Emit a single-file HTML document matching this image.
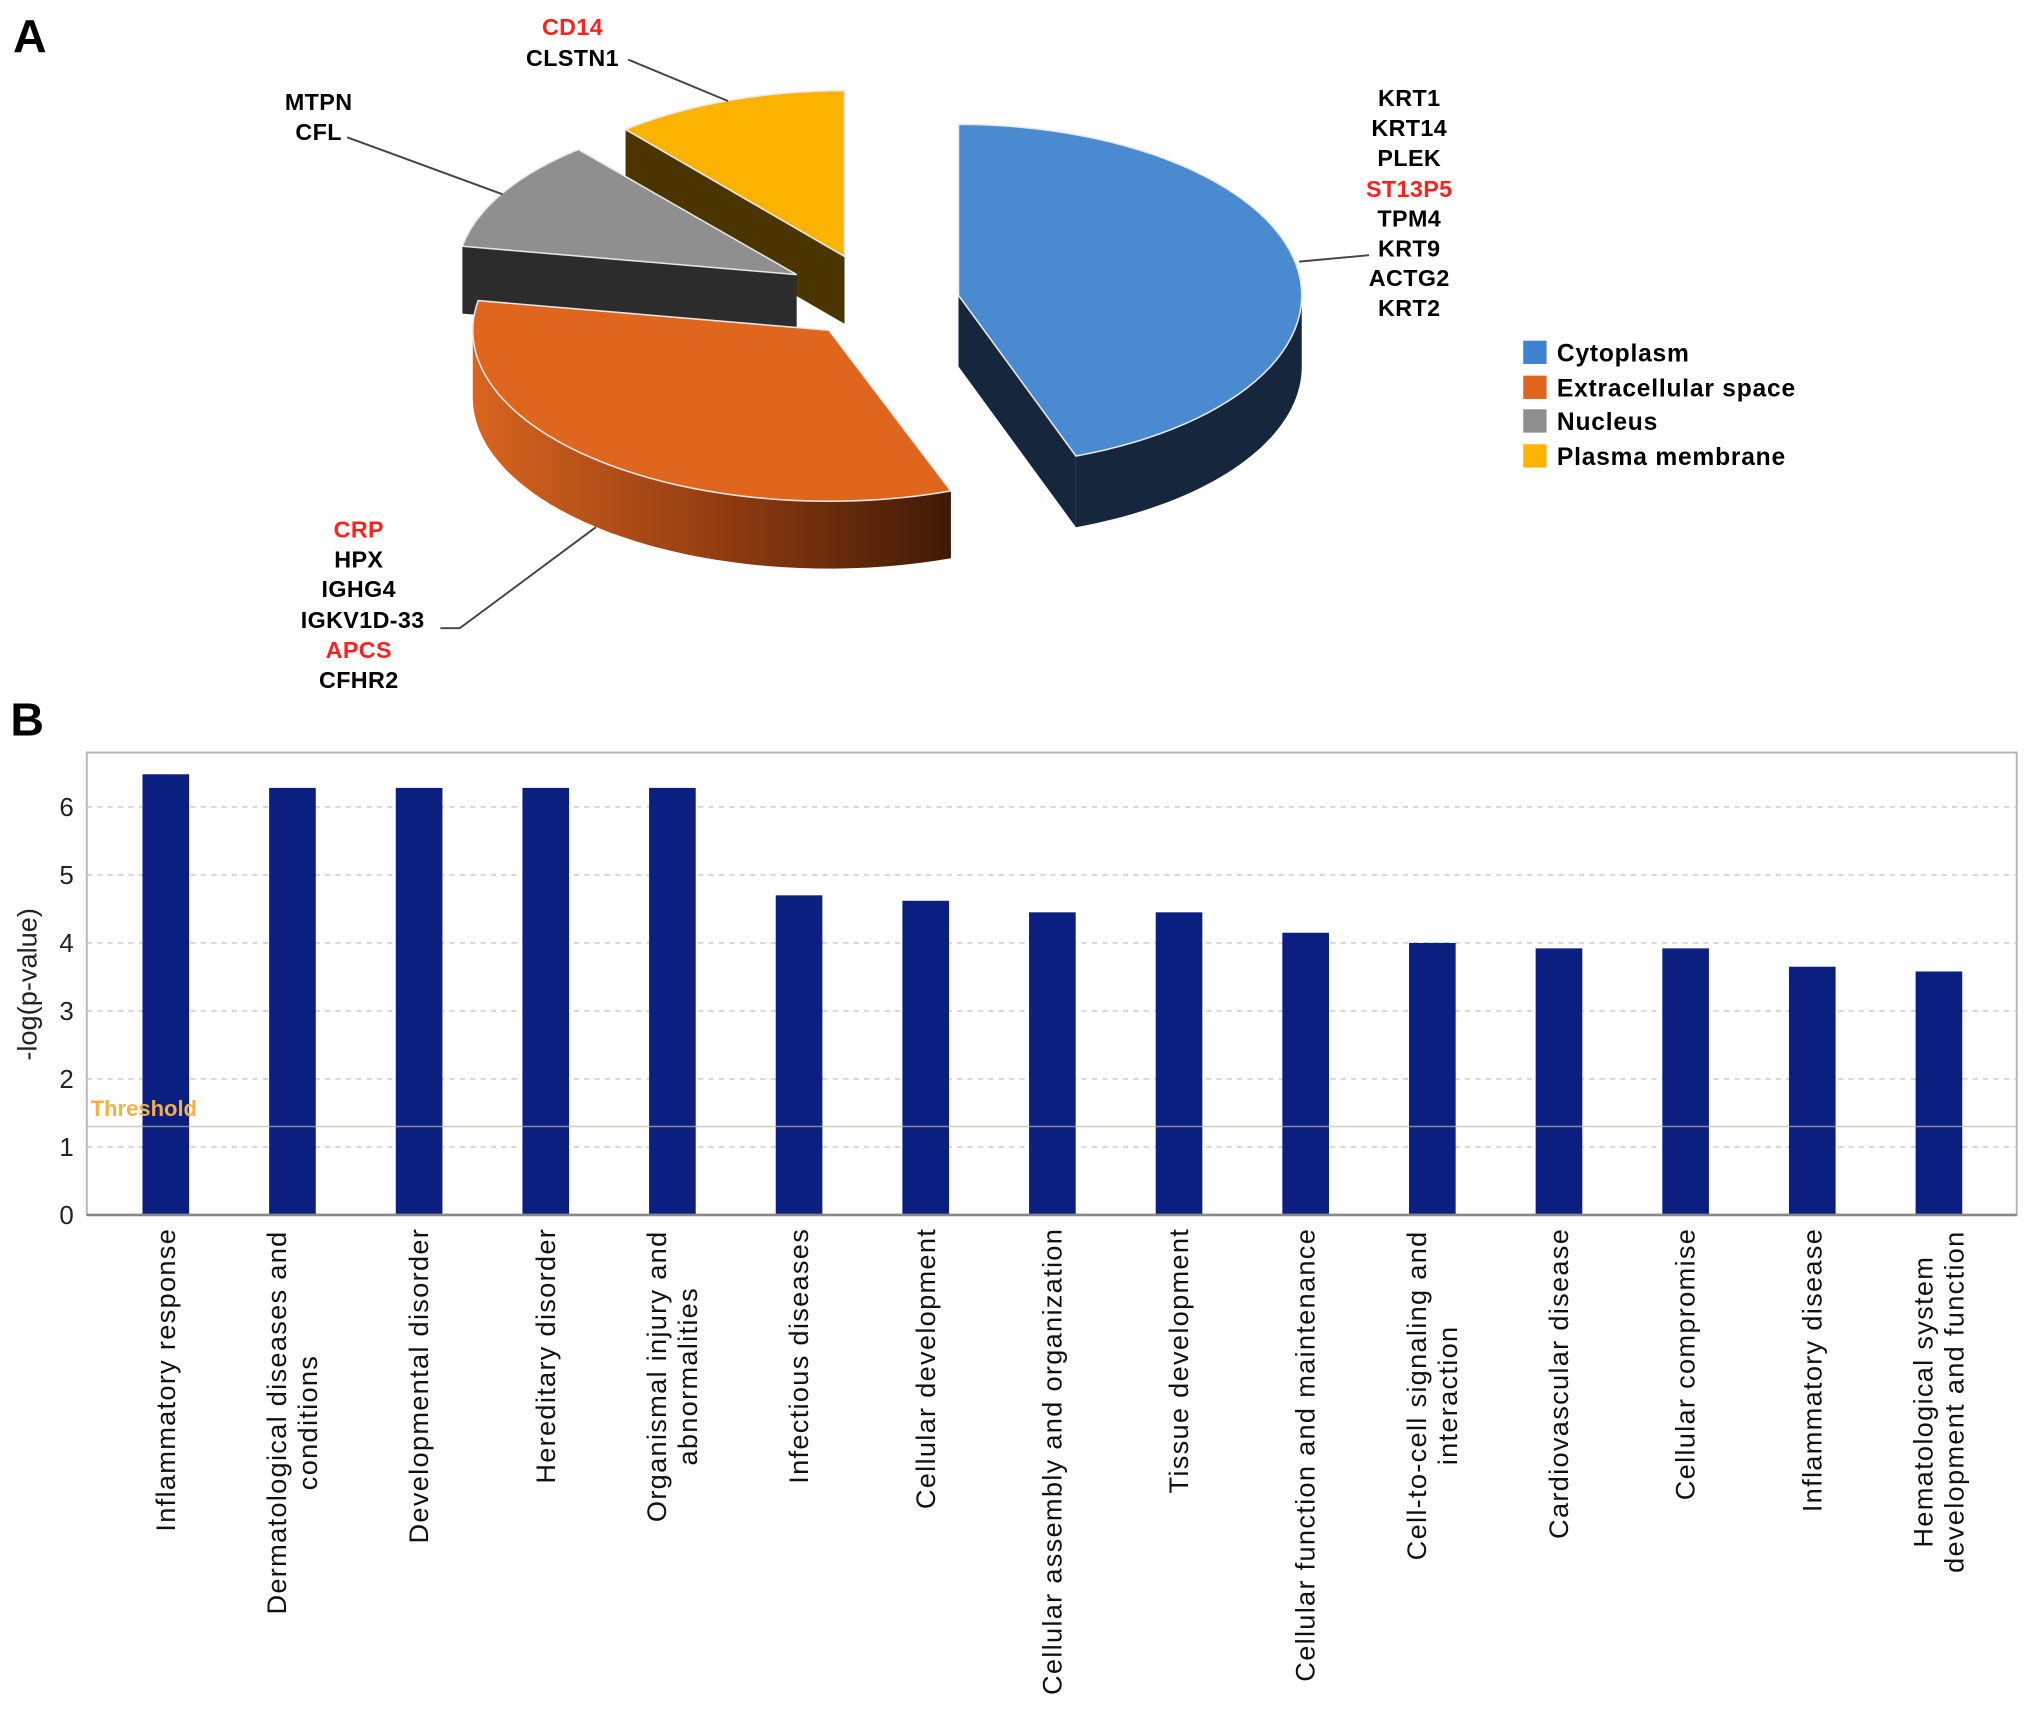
<!DOCTYPE html>
<html><head><meta charset="utf-8"><style>
html,body{margin:0;padding:0;background:#fff;}
svg{display:block;}
text{font-family:"Liberation Sans",sans-serif;}
</style></head><body>
<svg id="fig" width="2031" height="1711" viewBox="0 0 1568 1321" preserveAspectRatio="none" xmlns="http://www.w3.org/2000/svg">
<defs>
<linearGradient id="orgSide" x1="0" x2="1" y1="0" y2="0">
<stop offset="0" stop-color="#d8651f"/><stop offset="0.55" stop-color="#8d3a10"/><stop offset="1" stop-color="#3e1a05"/>
</linearGradient>
</defs>
<text x="10" y="40" font-size="36" font-weight="bold">A</text>
<text x="8" y="568" font-size="36" font-weight="bold">B</text>
<g id="pie"></g>
<g id="pielabels" font-size="18" font-weight="bold" text-anchor="middle" letter-spacing="0.3">
<line x1="485" y1="46" x2="562" y2="78" stroke="#444" stroke-width="1.5"/>
<line x1="268" y1="106" x2="388" y2="150" stroke="#444" stroke-width="1.5"/>
<line x1="1003" y1="202" x2="1057" y2="197" stroke="#444" stroke-width="1.5"/>
<polyline points="340,485 355,485 460,407" fill="none" stroke="#444" stroke-width="1.5"/>
<text x="442" y="27" fill="#ff2020">CD14</text>
<text x="442" y="51">CLSTN1</text>
<text x="246" y="85">MTPN</text>
<text x="246" y="108">CFL</text>
<text x="1088" y="82">KRT1</text>
<text x="1088" y="105">KRT14</text>
<text x="1088" y="128">PLEK</text>
<text x="1088" y="152" fill="#ff2020">ST13P5</text>
<text x="1088" y="175">TPM4</text>
<text x="1088" y="198">KRT9</text>
<text x="1088" y="221">ACTG2</text>
<text x="1088" y="244">KRT2</text>
<text x="277" y="415" fill="#ff2020">CRP</text>
<text x="277" y="438">HPX</text>
<text x="277" y="461">IGHG4</text>
<text x="280" y="485">IGKV1D-33</text>
<text x="277" y="508" fill="#ff2020">APCS</text>
<text x="277" y="531">CFHR2</text>
</g>
<g font-size="19" font-weight="bold">
<g><rect x="1176" y="263" width="18" height="18" fill="#3f82d0"/><text x="1202" y="279" letter-spacing="0.6">Cytoplasm</text></g>
<g><rect x="1176" y="290" width="18" height="18" fill="#e0661e"/><text x="1202" y="306" letter-spacing="0.6">Extracellular space</text></g>
<g><rect x="1176" y="316" width="18" height="18" fill="#8f8f8f"/><text x="1202" y="332" letter-spacing="0.6">Nucleus</text></g>
<g><rect x="1176" y="343" width="18" height="18" fill="#fbb300"/><text x="1202" y="359" letter-spacing="0.6">Plasma membrane</text></g>
</g>
<g id="bars"></g>
</svg>
<script>
// Pie data
const pieCategories = ["Cytoplasm","Extracellular space","Nucleus","Plasma membrane"];
const pieCounts = [8, 6, 2, 2];
// Bar data
const barCategories = [["Inflammatory response"],["Dermatological diseases and","conditions"],["Developmental disorder"],["Hereditary disorder"],["Organismal injury and","abnormalities"],["Infectious diseases"],["Cellular development"],["Cellular assembly and organization"],["Tissue development"],["Cellular function and maintenance"],["Cell-to-cell signaling and","interaction"],["Cardiovascular disease"],["Cellular compromise"],["Inflammatory disease"],["Hematological system","development and function"]];
const barValues = [6.48, 6.28, 6.28, 6.28, 6.28, 4.70, 4.62, 4.45, 4.45, 4.15, 4.00, 3.92, 3.92, 3.65, 3.58];
const yTicks = [0, 1, 2, 3, 4, 5, 6];
const thresholdValue = 1.3;

const NS = "http://www.w3.org/2000/svg";
function mk(tag, attrs, parent){const e=document.createElementNS(NS,tag);for(const k in attrs)e.setAttribute(k,attrs[k]);parent.appendChild(e);return e;}

// ---- Pie (exploded 3D) ----
const pie = document.getElementById('pie');
const sliceGeom = [
 {cx:740,cy:228,rx:265,ry:132,d:55,top:"#4a8ad0",wall:"#16273d",side:"#16273d"},
 {cx:640,cy:255,rx:275,ry:132,d:52,top:"#e0661e",wall:"#4a2108",side:"url(#orgSide)"},
 {cx:615,cy:212,rx:262,ry:126,d:52,top:"#8f8f8f",wall:"#2c2c2c",side:"#2c2c2c"},
 {cx:652,cy:198,rx:263,ry:128,d:52,top:"#fbb300",wall:"#4a3400",side:"#4a3400"}
];
const total = pieCounts.reduce((a,b)=>a+b,0);
let ang = -90;
const slices = pieCounts.map((v,i)=>{const a0=ang;const a1=ang+v/total*360;ang=a1;return {i,a0,a1};});
function pt(g,t,dy){const r=t*Math.PI/180;return [g.cx+g.rx*Math.cos(r), g.cy+g.ry*Math.sin(r)+(dy||0)];}
const order = [3,2,1,0];
order.forEach(idx=>{
  const s=slices[idx], g=sliceGeom[idx];
  const sg = mk('g',{},pie);
  
  
  const walls=[s.a0,s.a1].map(t=>{const p=pt(g,t);return {t,p,my:(p[1]+g.cy)/2};}).sort((a,b)=>a.my-b.my);
  walls.forEach(w=>{
    const c=[g.cx,g.cy], p=w.p;
    mk('polygon',{points:`${c[0]},${c[1]} ${p[0]},${p[1]} ${p[0]},${p[1]+g.d} ${c[0]},${c[1]+g.d}`,fill:g.wall},sg);
  });
  const lo=Math.max(s.a0,0), hi=Math.min(s.a1,180);
  if(hi>lo){
    let top=[],bot=[];
    for(let t=lo;t<=hi+0.001;t+=(hi-lo)/40){top.push(pt(g,t));bot.push(pt(g,t,g.d));}
    const pts=top.concat(bot.reverse()).map(p=>p.join(',')).join(' ');
    mk('polygon',{points:pts,fill:g.side},sg);
  }
  let tp=[[g.cx,g.cy]];
  for(let t=s.a0;t<=s.a1+0.001;t+=(s.a1-s.a0)/60)tp.push(pt(g,t));
  mk('polygon',{points:tp.map(p=>p.join(',')).join(' '),fill:g.top,stroke:"#e8e8e8","stroke-width":1.2},sg);
});

// ---- Bar chart ----
const bars = document.getElementById('bars');
const plot = {x0:67,x1:1557,y0:581,y1:938};
function yScale(v){return 938 - v*52.5;}
function xScale(i){return 128 + i*97.78;}
mk('rect',{x:plot.x0,y:plot.y0,width:plot.x1-plot.x0,height:plot.y1-plot.y0,fill:"#fff",stroke:"#b5b5b5","stroke-width":1.5},bars);
yTicks.forEach(v=>{
  if(v>0){const gl=mk('line',{x1:plot.x0,x2:plot.x1,y1:yScale(v),y2:yScale(v),stroke:"#d0d0d0","stroke-width":1.2,"stroke-dasharray":"4,4"},bars);
  
  }
  const tl=mk('text',{x:57,y:yScale(v)+7,"font-size":20,"text-anchor":"end",fill:"#222"},bars);
  tl.textContent=v;
  
  
});
const yt=mk('text',{transform:"translate(28,760) rotate(-90)","font-size":21,"text-anchor":"middle",fill:"#222"},bars);
yt.textContent="-log(p-value)";


const LBL = {size:21, ls:1.0};
barValues.forEach((v,i)=>{
  const cx=xScale(i);
  const r=mk('rect',{x:cx-18,y:yScale(v),width:36,height:yScale(0)-yScale(v),fill:"#0a1f80"},bars);
  
  
  const lines=barCategories[i];
  if(lines.length===1){
    const t=mk('text',{transform:`translate(${cx+7},948) rotate(-90)`,"font-size":LBL.size,"letter-spacing":LBL.ls,"text-anchor":"end",fill:"#111"},bars);
    t.textContent=lines[0];
    
    
  } else {
    const t1=mk('text',{"font-size":LBL.size,"letter-spacing":LBL.ls,"text-anchor":"middle",fill:"#111"},bars);
    t1.textContent=lines[0];
    
    
    const t2=mk('text',{"font-size":LBL.size,"letter-spacing":LBL.ls,"text-anchor":"middle",fill:"#111"},bars);
    t2.textContent=lines[1];
    
    
    const len=Math.max(t1.getComputedTextLength(),t2.getComputedTextLength());
    const cy=950+len/2;
    t1.setAttribute('transform',`translate(${cx-5},${cy}) rotate(-90)`);
    t2.setAttribute('transform',`translate(${cx+19},${cy}) rotate(-90)`);
  }
});
const th=mk('line',{x1:plot.x0,x2:plot.x1,y1:yScale(thresholdValue),y2:yScale(thresholdValue),stroke:"#b8b8a0","stroke-width":1.2,"stroke-opacity":0.7},bars);


const tht=mk('text',{x:70,y:yScale(thresholdValue)-8,"font-size":17,"font-weight":"bold",fill:"#f7b040"},bars);
tht.textContent="Threshold";


const ax=mk('line',{x1:plot.x0,x2:plot.x1,y1:938,y2:938,stroke:"#888","stroke-width":2},bars);


</script>
</body></html>
